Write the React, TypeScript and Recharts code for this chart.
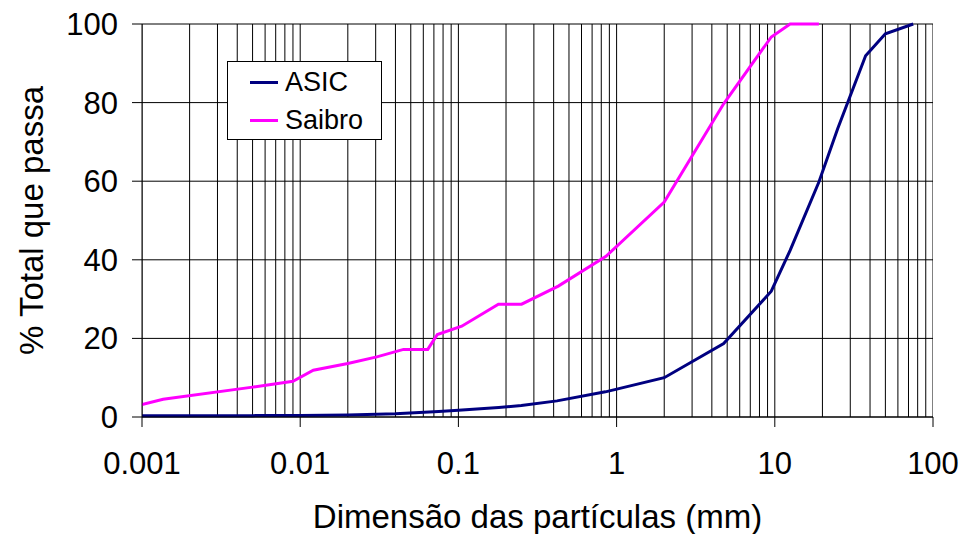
import React from 'react';
import {
  LineChart, Line, XAxis, YAxis, CartesianGrid, ReferenceLine, Legend, Label,
} from 'recharts';

// particle size (mm) and % passing
const asicSize = [0.001, 0.005, 0.01, 0.02, 0.04, 0.075, 0.1, 0.18, 0.25, 0.42, 0.85, 2, 4.75, 9.5, 12.5, 19, 25, 37.5, 50, 75];
const asicPass = [0.3, 0.35, 0.4, 0.5, 0.8, 1.4, 1.7, 2.4, 2.9, 4.1, 6.4, 10, 18.7, 32.0, 42.4, 59.8, 73.4, 91.9, 97.5, 100];

const saibroSize = [0.001, 0.00136, 0.005, 0.009, 0.0121, 0.02, 0.0305, 0.045, 0.064, 0.0736, 0.105, 0.179, 0.251, 0.428, 0.857, 2, 4.75, 9.5, 12.5, 19];
const saibroPass = [3.2, 4.5, 7.6, 9.1, 11.9, 13.6, 15.3, 17.2, 17.2, 21.0, 23.1, 28.7, 28.7, 33.3, 40.9, 54.7, 79.7, 96.7, 100, 100];

const xTicks = [0.001, 0.01, 0.1, 1, 10, 100];
const yTicks = [0, 20, 40, 60, 80, 100];
const minorSteps = [1, 2, 3, 4, 5, 6, 7, 8, 9];

const FONT = '"Liberation Sans", Arial, sans-serif';

const asicData = asicSize.map((x, i) => ({ x, y: asicPass[i] }));
const saibroData = saibroSize.map((x, i) => ({ x, y: saibroPass[i] }));

// vertical grid at every 1..9 of each decade, plus the closing 100
const gridX = [
  ...xTicks.slice(0, -1).flatMap((d) => minorSteps.map((m) => +(d * m).toPrecision(3))),
  100,
];

const LegendBox = ({ payload }: any) => (
  <div
    style={{
      width: 155,
      height: 79,
      border: '1px solid #000',
      background: '#fff',
      boxSizing: 'border-box',
      fontFamily: FONT,
      fontSize: 27,
      paddingTop: 1,
    }}
  >
    {(payload || []).map((p: any) => (
      <div key={p.value} style={{ display: 'flex', alignItems: 'center', height: 38 }}>
        <div style={{ width: 28, height: 3, background: p.color, marginLeft: 22, marginRight: 7 }} />
        <span style={{ color: '#000' }}>{p.value}</span>
      </div>
    ))}
  </div>
);

export default function App() {
  return (
    <div style={{ position: 'absolute', left: 0, top: 0, width: 964, height: 534, background: '#fff' }}>
      <LineChart width={964} height={534} margin={{ top: 24, right: 31, bottom: 0, left: 0 }}>
        <CartesianGrid vertical={false} stroke="#000" strokeWidth={1} />
        {gridX.map((v) => (
          <ReferenceLine key={v} x={v} stroke="#000" strokeWidth={1} ifOverflow="hidden" />
        ))}
        <XAxis
          dataKey="x"
          type="number"
          scale="log"
          domain={[0.001, 100]}
          allowDataOverflow
          ticks={xTicks}
          tickFormatter={(v) => String(v)}
          height={117}
          tickSize={10}
          tickMargin={25}
          axisLine={{ stroke: '#000' }}
          tickLine={{ stroke: '#000' }}
          tick={{ fill: '#000', fontSize: 31, fontFamily: FONT }}
        >
          <Label
            content={({ viewBox }: any) => (
              <text
                x={viewBox.x + viewBox.width / 2}
                y={528}
                textAnchor="middle"
                fontSize={33}
                fontFamily={FONT}
                fill="#000"
              >
                Dimensão das partículas (mm)
              </text>
            )}
          />
        </XAxis>
        <YAxis
          type="number"
          domain={[0, 100]}
          ticks={yTicks}
          width={142}
          tickSize={10}
          tickMargin={14}
          axisLine={{ stroke: '#000' }}
          tickLine={{ stroke: '#000' }}
          tick={{ fill: '#000', fontSize: 31, fontFamily: FONT }}
        >
          <Label
            content={({ viewBox }: any) => {
              const cx = 43;
              const cy = viewBox.y + viewBox.height / 2;
              return (
                <text
                  x={cx}
                  y={cy}
                  transform={`rotate(-90 ${cx} ${cy})`}
                  textAnchor="middle"
                  fontSize={33}
                  fontFamily={FONT}
                  fill="#000"
                >
                  % Total que passa
                </text>
              );
            }}
          />
        </YAxis>
        <Legend
          content={<LegendBox />}
          layout="vertical"
          align="center"
          verticalAlign="middle"
          wrapperStyle={{ position: 'absolute', left: 227, top: 61, width: 155 }}
        />
        <Line
          data={asicData}
          dataKey="y"
          name="ASIC"
          stroke="#000080"
          strokeWidth={3}
          dot={false}
          type="linear"
          isAnimationActive={false}
        />
        <Line
          data={saibroData}
          dataKey="y"
          name="Saibro"
          stroke="#FF00FF"
          strokeWidth={3}
          dot={false}
          type="linear"
          isAnimationActive={false}
        />
      </LineChart>
    </div>
  );
}
